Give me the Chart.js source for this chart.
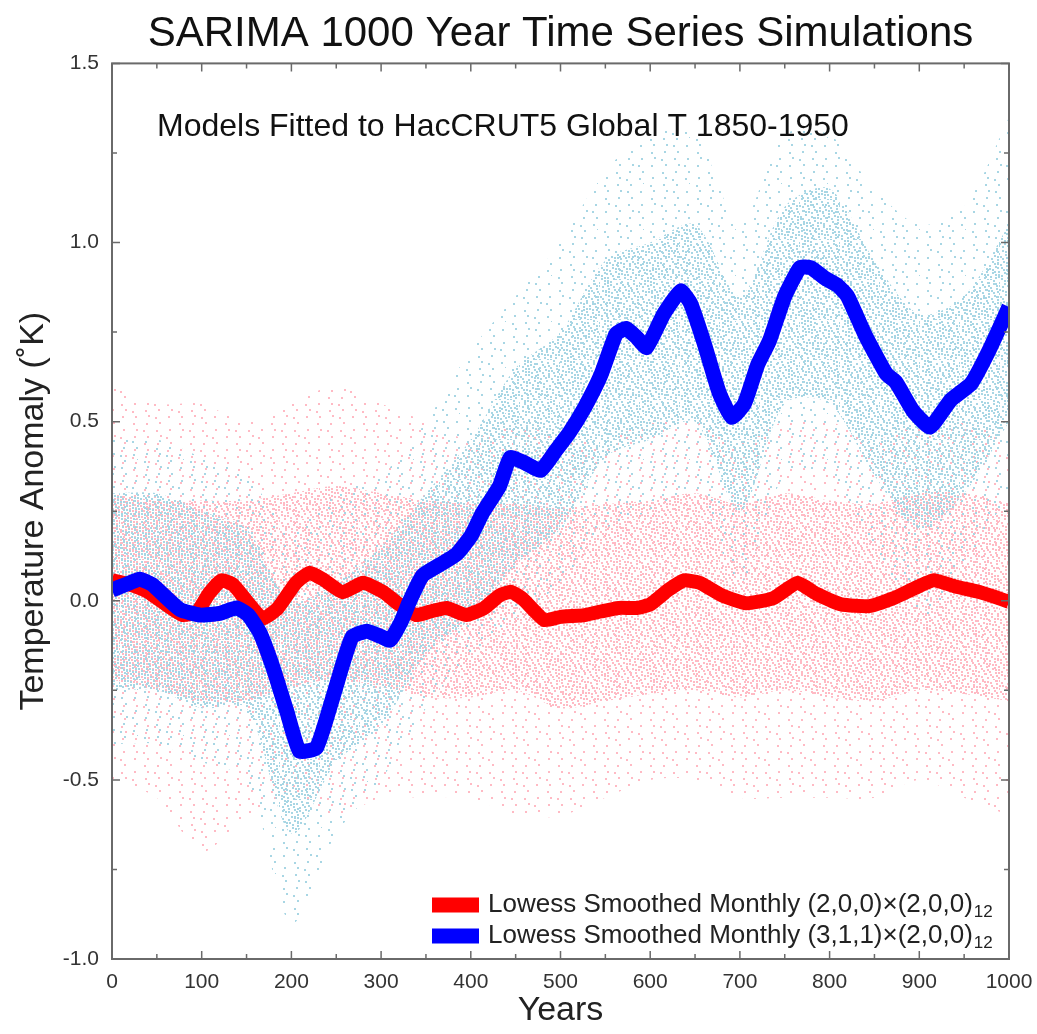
<!DOCTYPE html>
<html lang="en">
<head>
  <meta charset="UTF-8">
  <title>SARIMA 1000 Year Time Series Simulations</title>
  <script src="https://cdn.jsdelivr.net/npm/chart.js@4.4.1/dist/chart.umd.min.js"></script>
  <style>
    html, body { margin: 0; padding: 0; background: #fff; overflow: hidden; }
  </style>
</head>
<body>
  <canvas id="sarimaChart" width="1037" height="1034"></canvas>

  <script>
    // Lowess smoothed curves (years, anomaly in K)
    const redYears = [0, 20, 40, 60, 79, 95, 108, 122, 135, 150, 168, 185, 205, 220, 235, 257, 280, 302, 320, 339,
      355, 373, 395, 415, 432, 445, 458, 482, 500, 527, 545, 565, 585, 600, 620, 638, 655, 680, 707, 737,
      764, 785, 813, 844, 871, 895, 916, 940, 966, 985, 1000];
    const redValues = [0.057, 0.045, 0.025, -0.01, -0.04, -0.03, 0.02, 0.057, 0.045, 0.0, -0.05, -0.02, 0.05, 0.078, 0.06, 0.024, 0.05, 0.025, -0.01, -0.04,
      -0.03, -0.02, -0.04, -0.02, 0.015, 0.025, 0.005, -0.054, -0.045, -0.04, -0.03, -0.02, -0.02, -0.01, 0.03, 0.057, 0.05, 0.015, -0.007, 0.007,
      0.05, 0.02, -0.01, -0.015, 0.007, 0.035, 0.057, 0.04, 0.025, 0.01, -0.003];

    const blueYears = [0, 15, 31, 45, 60, 76, 98, 120, 139, 152, 165, 180, 195, 209, 228, 245, 258, 268, 284, 300,
      310, 322, 332, 346, 365, 384, 400, 413, 432, 444, 460, 478, 495, 510, 527, 545, 562, 573, 585, 596,
      615, 634, 645, 660, 677, 691, 705, 720, 733, 750, 767, 779, 795, 809, 820, 840, 863, 874, 893, 912,
      935, 958, 978, 1000];
    const blueValues = [0.03, 0.045, 0.06, 0.045, 0.01, -0.025, -0.04, -0.035, -0.02, -0.04, -0.09, -0.19, -0.31, -0.42, -0.41, -0.28, -0.17, -0.1, -0.085, -0.1,
      -0.11, -0.06, 0.0, 0.07, 0.1, 0.13, 0.18, 0.245, 0.32, 0.4, 0.385, 0.364, 0.42, 0.47, 0.54, 0.63, 0.745, 0.76, 0.735, 0.707,
      0.8, 0.865, 0.83, 0.72, 0.58, 0.512, 0.55, 0.66, 0.726, 0.85, 0.93, 0.93, 0.9, 0.88, 0.85, 0.74, 0.634, 0.61, 0.53, 0.485,
      0.56, 0.607, 0.7, 0.82];

    // extent of the monthly scatter clouds, every 50 years
    const cloudYears = [0, 50, 100, 150, 200, 250, 300, 350, 400, 450, 500, 550, 600, 650, 700, 750, 800, 850, 900, 950, 1000];
    const pinkOuterHi = [0.6, 0.55, 0.55, 0.5, 0.55, 0.6, 0.55, 0.5, 0.45, 0.5, 0.45, 0.45, 0.5, 0.5, 0.45, 0.5, 0.5, 0.45, 0.5, 0.5, 0.45];
    const pinkCoreHi  = [0.3, 0.28, 0.28, 0.28, 0.3, 0.32, 0.3, 0.28, 0.27, 0.27, 0.26, 0.27, 0.28, 0.3, 0.27, 0.3, 0.28, 0.27, 0.3, 0.3, 0.27];
    const pinkCoreLo  = [-0.22, -0.25, -0.28, -0.28, -0.24, -0.22, -0.24, -0.27, -0.27, -0.25, -0.3, -0.28, -0.26, -0.25, -0.27, -0.25, -0.27, -0.28, -0.25, -0.26, -0.28];
    const pinkOuterLo = [-0.5, -0.55, -0.7, -0.6, -0.55, -0.6, -0.55, -0.55, -0.55, -0.6, -0.6, -0.55, -0.5, -0.5, -0.55, -0.55, -0.55, -0.55, -0.5, -0.55, -0.6];

    const blueOuterHi = [0.45, 0.45, 0.4, 0.35, 0.2, 0.3, 0.35, 0.5, 0.7, 0.85, 1.0, 1.2, 1.3, 1.3, 1.05, 1.3, 1.3, 1.15, 1.05, 1.1, 1.35];
    const blueCoreHi  = [0.3, 0.3, 0.25, 0.2, 0.0, 0.05, 0.15, 0.3, 0.45, 0.65, 0.75, 0.95, 1.0, 1.05, 0.85, 1.1, 1.15, 0.95, 0.8, 0.85, 1.05];
    const blueCoreLo  = [-0.25, -0.25, -0.3, -0.3, -0.65, -0.45, -0.35, -0.15, -0.05, 0.1, 0.2, 0.4, 0.45, 0.5, 0.25, 0.55, 0.55, 0.35, 0.2, 0.3, 0.5];
    const blueOuterLo = [-0.4, -0.4, -0.45, -0.5, -0.9, -0.65, -0.5, -0.3, -0.15, -0.05, 0.05, 0.2, 0.25, 0.3, 0.05, 0.35, 0.35, 0.15, -0.05, 0.1, 0.3];

    const legendItems = [
      { color: '#ff0000', text: 'Lowess Smoothed Monthly (2,0,0)\u00d7(2,0,0)', sub: '12' },
      { color: '#0000ff', text: 'Lowess Smoothed Monthly (3,1,1)\u00d7(2,0,0)', sub: '12' }
    ];
    const noteText = 'Models Fitted to HacCRUT5 Global T 1850-1950';

    const FONT = "'Liberation Sans', Arial, Helvetica, sans-serif";
    Chart.defaults.font.family = FONT;

    const canvas = document.getElementById('sarimaChart');
    const ctx = canvas.getContext('2d');

    // dotted texture tiles (evenly spread, non-grid dots) so the clouds read as scattered points
    const dotPattern = (color, size, count, phase) => {
      const tile = document.createElement('canvas');
      tile.width = size; tile.height = size;
      const g = tile.getContext('2d');
      g.fillStyle = color;
      for (let n = 1; n <= count; n++) {
        const fx = (phase + n * 0.7548776662) % 1;
        const fy = (phase * 0.37 + n * 0.5698402910) % 1;
        g.fillRect(Math.floor(fx * size), Math.floor(fy * size), 2, 2);
      }
      return ctx.createPattern(tile, 'repeat');
    };

    const pinkCore = dotPattern('rgb(255,186,196)', 40, 110, 0.13);
    const pinkOuter = dotPattern('rgb(255,186,196)', 46, 26, 0.61);
    const blueCore = dotPattern('rgb(168,214,228)', 40, 110, 0.42);
    const blueOuter = dotPattern('rgb(168,214,228)', 46, 26, 0.87);

    const pts = (xs, ys) => xs.map((x, i) => ({ x, y: ys[i] }));

    const band = (lo, hi, fillStyle, order) => [
      { data: pts(cloudYears, lo), borderWidth: 0, pointRadius: 0, fill: false, tension: 0.3, order },
      { data: pts(cloudYears, hi), borderWidth: 0, pointRadius: 0, fill: '-1', backgroundColor: fillStyle, tension: 0.3, order }
    ];

    // frame and inward tick marks on all four sides
    const framePlugin = {
      id: 'frame',
      afterDatasetsDraw(chart) {
        const { ctx, chartArea: a, scales: { x, y } } = chart;
        ctx.save();
        ctx.strokeStyle = '#6a6a6a';
        ctx.lineWidth = 2;
        ctx.strokeRect(a.left, a.top, a.right - a.left, a.bottom - a.top);
        ctx.lineWidth = 1.5;
        ctx.beginPath();
        for (let v = 0; v <= 1000; v += 50) {
          const px = x.getPixelForValue(v);
          const len = v % 100 === 0 ? 8 : 5;
          ctx.moveTo(px, a.bottom); ctx.lineTo(px, a.bottom - len);
          ctx.moveTo(px, a.top); ctx.lineTo(px, a.top + len);
        }
        for (let v = -1; v <= 1.5001; v += 0.25) {
          const py = y.getPixelForValue(v);
          const len = Math.abs(v * 2 - Math.round(v * 2)) < 1e-6 ? 8 : 5;
          ctx.moveTo(a.left, py); ctx.lineTo(a.left + len, py);
          ctx.moveTo(a.right, py); ctx.lineTo(a.right - len, py);
        }
        ctx.stroke();
        ctx.restore();
      }
    };

    // in-plot note and the legend with subscripts
    const notePlugin = {
      id: 'note',
      afterDraw(chart) {
        const { ctx, chartArea: a } = chart;
        ctx.save();
        ctx.fillStyle = '#111';
        ctx.textBaseline = 'alphabetic';
        ctx.font = `32px ${FONT}`;
        ctx.fillText(noteText, a.left + 45, a.top + 73);

        legendItems.forEach((item, i) => {
          const cy = a.bottom - 54 + i * 31;
          const sx = a.right - 577;
          ctx.fillStyle = item.color;
          ctx.fillRect(sx, cy - 7.5, 47, 15);
          ctx.fillStyle = '#222';
          ctx.font = `26px ${FONT}`;
          ctx.textBaseline = 'middle';
          ctx.fillText(item.text, sx + 56, cy);
          const w = ctx.measureText(item.text).width;
          ctx.font = `17px ${FONT}`;
          ctx.fillText(item.sub, sx + 56 + w + 1, cy + 7);
        });
        ctx.restore();
      }
    };

    new Chart(ctx, {
      type: 'line',
      data: {
        datasets: [
          { label: 'Lowess (3,1,1)', data: pts(blueYears, blueValues), borderColor: '#0000ff', borderWidth: 15, pointRadius: 0, fill: false, tension: 0.15, order: 0 },
          { label: 'Lowess (2,0,0)', data: pts(redYears, redValues), borderColor: '#ff0000', borderWidth: 14, pointRadius: 0, fill: false, tension: 0.15, order: 1 },
          ...band(blueOuterLo, blueOuterHi, blueOuter, 2),
          ...band(blueCoreLo, blueCoreHi, blueCore, 3),
          ...band(pinkOuterLo, pinkOuterHi, pinkOuter, 4),
          ...band(pinkCoreLo, pinkCoreHi, pinkCore, 5)
        ]
      },
      options: {
        responsive: false,
        animation: false,
        layout: { padding: { top: 0, right: 28, bottom: 0, left: 0 } },
        scales: {
          x: {
            type: 'linear', min: 0, max: 1000,
            grid: { display: false, drawTicks: false },
            border: { display: false },
            ticks: {
              stepSize: 50, autoSkip: false, maxRotation: 0, padding: 11,
              color: '#333', font: { size: 21 },
              callback: v => (v % 100 === 0 ? String(v) : '')
            },
            title: { display: true, text: 'Years', color: '#222', font: { size: 34 }, padding: { top: 0, bottom: 3 } },
            afterFit: s => { s.height = 75; s.paddingLeft = 0; s.paddingRight = 0; }
          },
          y: {
            min: -1, max: 1.5,
            grid: { display: false, drawTicks: false },
            border: { display: false },
            ticks: {
              stepSize: 0.25, autoSkip: false, padding: 13,
              color: '#333', font: { size: 21 },
              callback: v => (Math.abs(v * 2 - Math.round(v * 2)) < 1e-6 ? v.toFixed(1) : '')
            },
            title: { display: true, text: 'Temperature Anomaly (\u02daK)', color: '#222', font: { size: 34 }, padding: { top: 13, bottom: 0 } },
            afterFit: s => { s.width = 112; s.paddingTop = 0; s.paddingBottom = 0; }
          }
        },
        plugins: {
          legend: { display: false },
          tooltip: { enabled: false },
          title: {
            display: true, fullSize: false,
            text: 'SARIMA 1000 Year Time Series Simulations',
            color: '#111', font: { size: 42, weight: 'normal' },
            padding: { top: 9, bottom: 4 }
          }
        }
      },
      plugins: [framePlugin, notePlugin]
    });
  </script>
</body>
</html>
